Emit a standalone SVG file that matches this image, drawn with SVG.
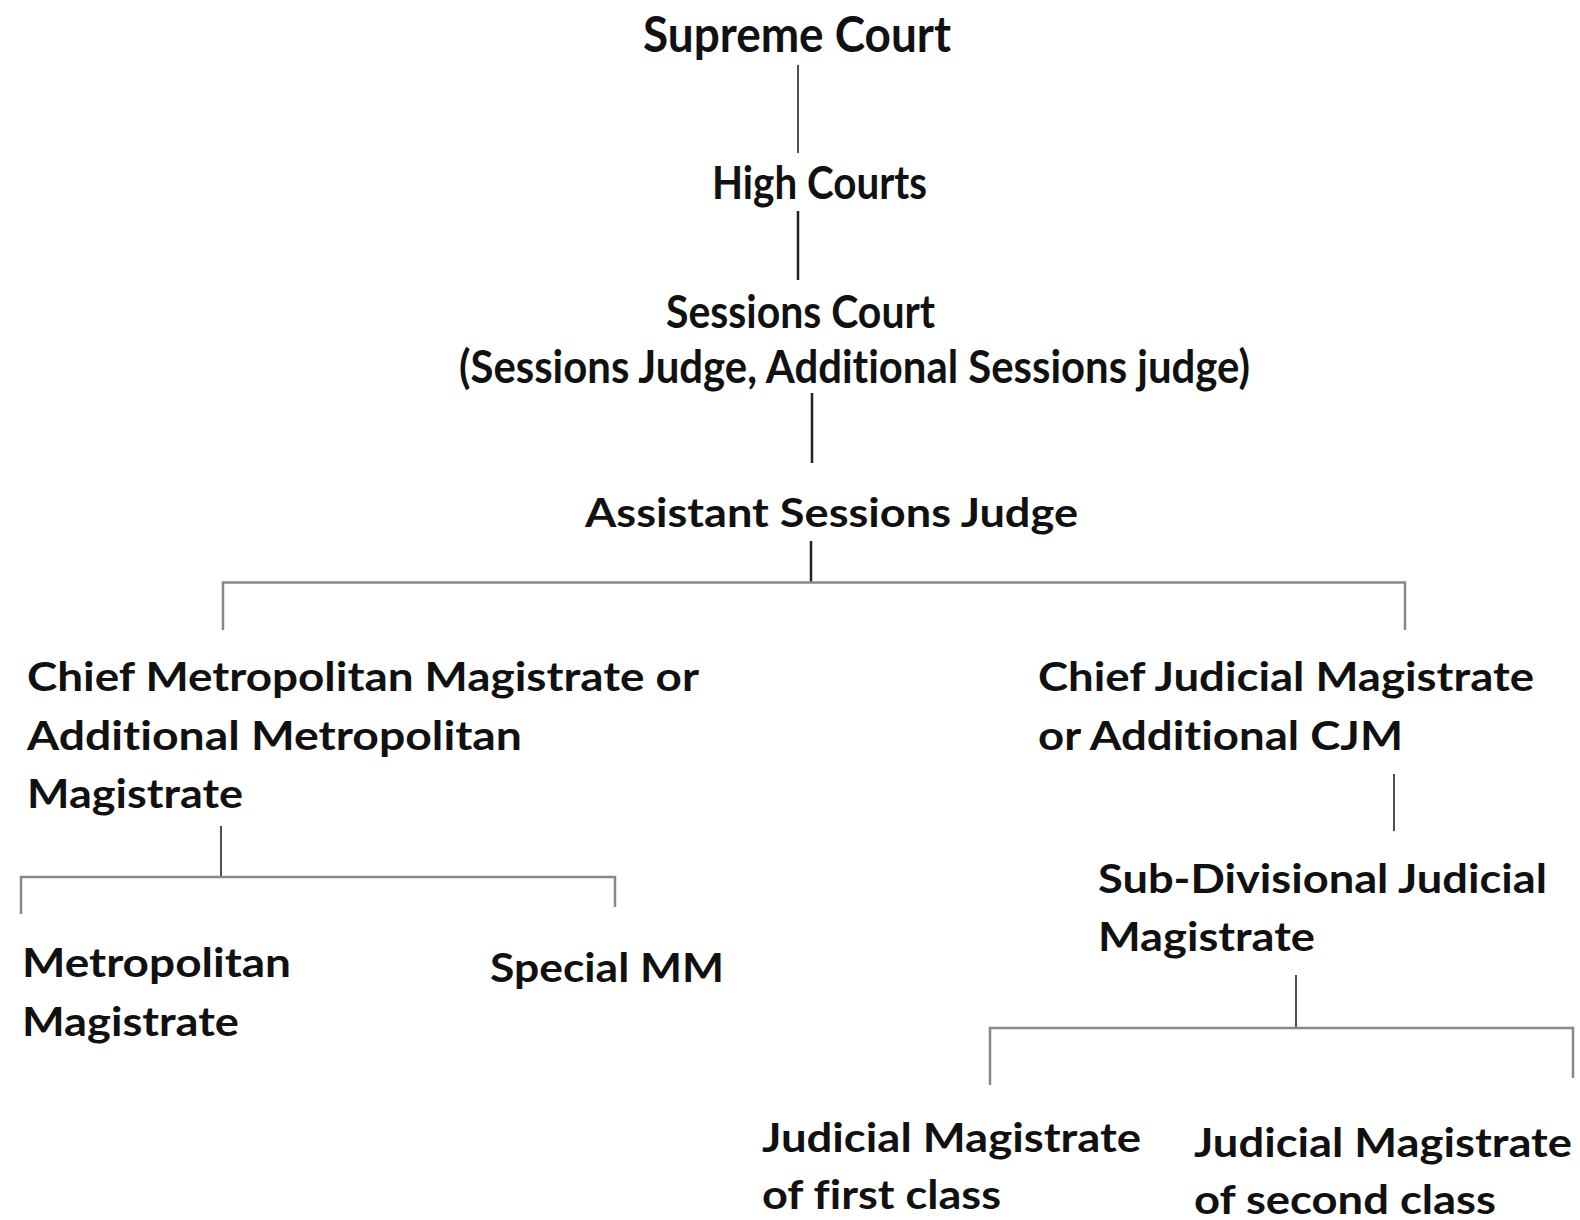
<svg xmlns="http://www.w3.org/2000/svg" width="1580" height="1220" viewBox="0 0 1580 1220">
<style>
text{font-family:Lato,"Open Sans","Liberation Sans",sans-serif;font-weight:700;fill:#111;font-variant-ligatures:none;font-feature-settings:"liga" 0,"clig" 0;}
.t1{font-size:50px}
.t2{font-size:45px}
.t3{font-size:41px}
.dk{stroke:#222;stroke-width:2.5;fill:none}
.th{stroke:#222;stroke-width:1.6;fill:none}
.gr{stroke:#888;stroke-width:2.5;fill:none}
</style>
<rect width="1580" height="1220" fill="#fff"/>
<g id="connectors">
<line class="th" x1="798" y1="65" x2="798" y2="153"/>
<line class="dk" x1="798" y1="211" x2="798" y2="280"/>
<line class="dk" x1="812" y1="393" x2="812" y2="463"/>
<line class="dk" x1="811" y1="541" x2="811" y2="583"/>
<polyline class="gr" points="223,630 223,582.5 1405,582.5 1405,630"/>
<line class="th" x1="221" y1="826" x2="221" y2="877"/>
<polyline class="gr" points="21,914 21,877 615,877 615,907"/>
<line class="th" x1="1394" y1="774" x2="1394" y2="831"/>
<line class="th" x1="1296" y1="975" x2="1296" y2="1029"/>
<polyline class="gr" points="990,1085 990,1028 1573,1028 1573,1078"/>
</g>
<g id="supreme-court"><text class="t1" x="643" y="52" textLength="308" lengthAdjust="spacingAndGlyphs">Supreme Court</text></g>
<g id="high-courts"><text class="t2" x="712" y="199" textLength="215" lengthAdjust="spacingAndGlyphs">High Courts</text></g>
<g id="sessions-court">
<text class="t2" x="666" y="328" textLength="269" lengthAdjust="spacingAndGlyphs">Sessions Court</text>
<text class="t2" x="459" y="383" textLength="791" lengthAdjust="spacingAndGlyphs">(Sessions Judge, Additional Sessions judge)</text>
</g>
<g id="assistant-sessions-judge"><text class="t3" x="585" y="527" textLength="493" lengthAdjust="spacingAndGlyphs">Assistant Sessions Judge</text></g>
<g id="chief-metropolitan-magistrate">
<text class="t3" x="27" y="691" textLength="672" lengthAdjust="spacingAndGlyphs">Chief Metropolitan Magistrate or</text>
<text class="t3" x="27" y="750" textLength="495" lengthAdjust="spacingAndGlyphs">Additional Metropolitan</text>
<text class="t3" x="27" y="808" textLength="216" lengthAdjust="spacingAndGlyphs">Magistrate</text>
</g>
<g id="chief-judicial-magistrate">
<text class="t3" x="1038" y="691" textLength="496" lengthAdjust="spacingAndGlyphs">Chief Judicial Magistrate</text>
<text class="t3" x="1038" y="750" textLength="365" lengthAdjust="spacingAndGlyphs">or Additional CJM</text>
</g>
<g id="metropolitan-magistrate">
<text class="t3" x="22" y="977" textLength="269" lengthAdjust="spacingAndGlyphs">Metropolitan</text>
<text class="t3" x="22" y="1036" textLength="217" lengthAdjust="spacingAndGlyphs">Magistrate</text>
</g>
<g id="special-mm"><text class="t3" x="490" y="982" textLength="234" lengthAdjust="spacingAndGlyphs">Special MM</text></g>
<g id="sub-divisional-judicial-magistrate">
<text class="t3" x="1098" y="893" textLength="449" lengthAdjust="spacingAndGlyphs">Sub-Divisional Judicial</text>
<text class="t3" x="1098" y="951" textLength="217" lengthAdjust="spacingAndGlyphs">Magistrate</text>
</g>
<g id="jm-first-class">
<text class="t3" x="762" y="1152" textLength="379" lengthAdjust="spacingAndGlyphs">Judicial Magistrate</text>
<text class="t3" x="762" y="1209" textLength="239" lengthAdjust="spacingAndGlyphs">of first class</text>
</g>
<g id="jm-second-class">
<text class="t3" x="1194" y="1157" textLength="378" lengthAdjust="spacingAndGlyphs">Judicial Magistrate</text>
<text class="t3" x="1194" y="1214" textLength="302" lengthAdjust="spacingAndGlyphs">of second class</text>
</g>
</svg>
